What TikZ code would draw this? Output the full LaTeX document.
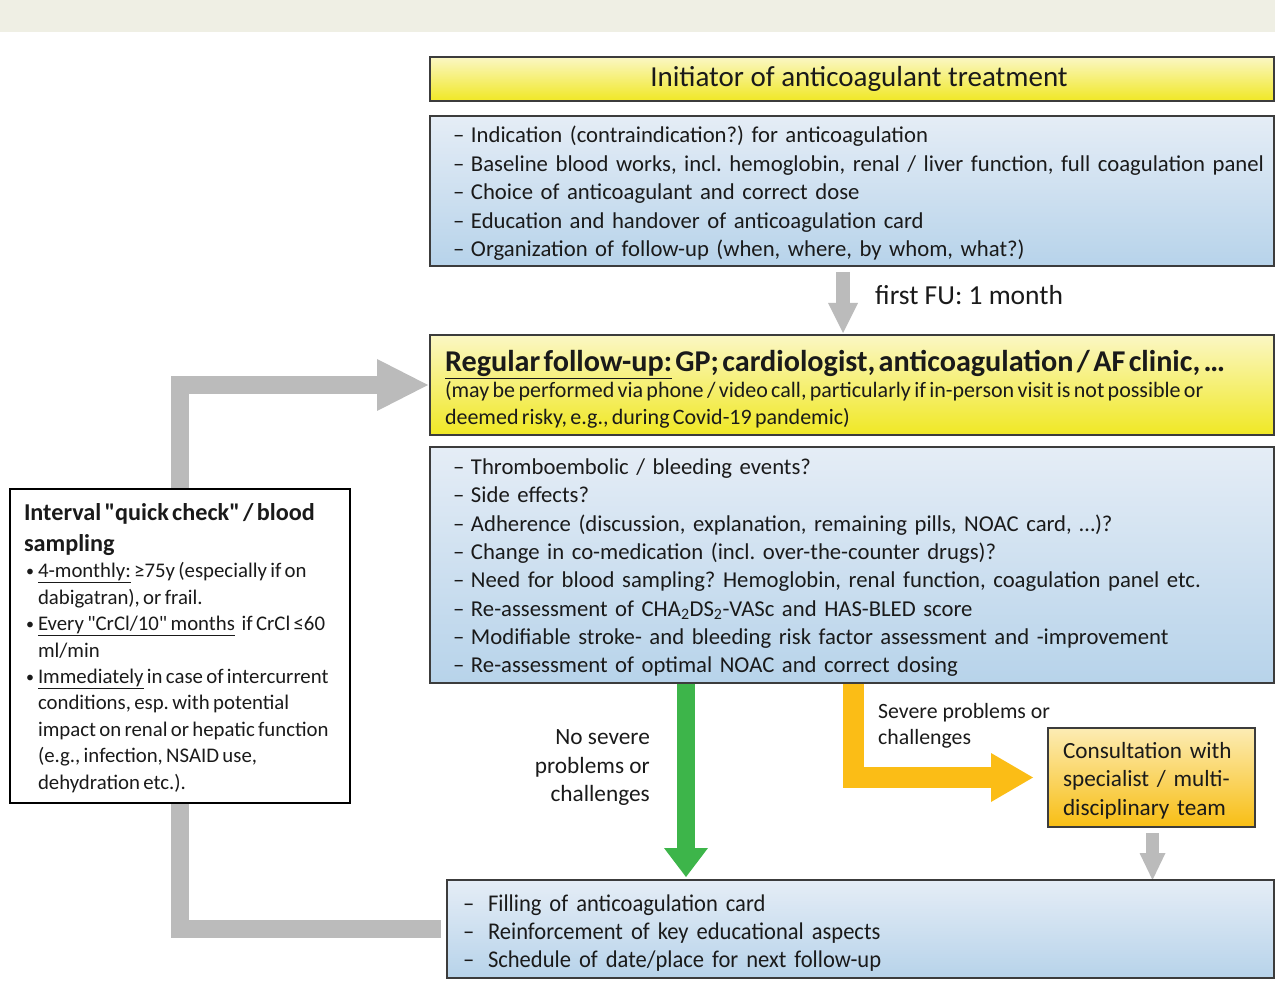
\documentclass[tikz,border=0pt]{standalone}
\usepackage{fontspec}
\setmainfont{Carlito}[Ligatures=TeXOff]
\newfontfamily\narrowfont{Carlito}[FakeStretch=0.94, Ligatures=TeXOff]
\usetikzlibrary{arrows.meta,backgrounds,calc}
\frenchspacing

\definecolor{band}{HTML}{EFEFE4}
\definecolor{boxline}{HTML}{3C3C3C}
\definecolor{blueTop}{HTML}{E5EDF6}
\definecolor{blueBot}{HTML}{B7D3EA}
\definecolor{yelTop}{HTML}{FBF7C4}
\definecolor{yelBot}{HTML}{F0E824}
\definecolor{consTop}{HTML}{FCECB4}
\definecolor{consBot}{HTML}{F8BE14}
\definecolor{arrgray}{HTML}{BBBBBB}
\definecolor{arrgreen}{HTML}{3DB54A}
\definecolor{arrorange}{HTML}{FBBD16}
\definecolor{ink}{HTML}{1A1A1A}

\newcommand\fsz[2]{\fontsize{#1}{#2}\selectfont}
\newcommand\dashitem{\makebox[18pt][l]{–}}
\newcommand\ndashitem{\makebox[25pt][l]{–}}
\newcommand\blt{\makebox[14pt][l]{\hspace{2pt}\raisebox{1pt}{\fsz{16}{16}•}}}
\newcommand\hang{\hspace*{14pt}}
% trailing negative space lowers a vertically centred text block
\newcommand\sinkby[1]{\par\vspace{-#1}}

\tikzset{
  box/.style={draw=boxline, line width=1.6pt, anchor=north west,
    inner ysep=0pt, outer sep=0pt, text=ink},
  bluebox/.style={box, top color=blueTop, bottom color=blueBot, align=left},
  yellowbox/.style={box, top color=yelTop, bottom color=yelBot},
  consbox/.style={box, top color=consTop, bottom color=consBot, align=left},
  plainlabel/.style={inner sep=0pt, text=ink},
  blockarrow/.style={line join=miter, line cap=butt},
}

\begin{document}
\begin{tikzpicture}[x=1pt, y=-1pt]
\useasboundingbox (0,0) rectangle (1275,981);

% horizontal positions of the vertical arrows
\coordinate (fux) at (843,0);
\coordinate (gx) at (686,0);
\coordinate (ox) at (853,0);
\coordinate (cx) at (1152.5,0);
\coordinate (loopx) at (179.5,0);

% header box
\node[yellowbox, minimum width=844pt, minimum height=44pt,
      font=\fsz{29}{32}] (init) at (430,57)
  {\hspace*{14pt}\raisebox{-3pt}{Initiator of anticoagulant treatment}};

% tasks at initiation
\node[bluebox, text width=798pt, inner xsep=23pt, minimum height=150pt,
      font=\fsz{22.7}{28.4}] (tasks) at (430,116)
  {\begin{tabular}{@{}l@{}}
   \dashitem Indication (contraindication?) for anticoagulation\\
   \dashitem Baseline blood works, incl. hemoglobin, renal / liver function, full coagulation panel\\
   \dashitem Choice of anticoagulant and correct dose\\
   \dashitem Education and handover of anticoagulation card\\
   \dashitem Organization of follow-up (when, where, by whom, what?)
   \end{tabular}\sinkby{6pt}};

% first follow-up label
\node[plainlabel, anchor=west, font=\fsz{27.5}{30}] (fu) at (875,295)
  {first FU: 1 month};

% regular follow-up box
\node[yellowbox, text width=814pt, inner xsep=15pt, minimum height=100pt,
      align=left] (follow) at (430,335)
  {{\fsz{30.2}{32}\bfseries\mbox{\underline{Regular follow-up:} GP; cardiologist, anticoagulation / AF clinic, …}\par}
   {\fsz{22}{26.5}\mbox{(may be performed via phone / video call, particularly if in-person visit is not possible or}\\
   \mbox{deemed risky, e.g., during Covid-19 pandemic)}\par}\sinkby{8pt}};

% checks at each follow-up
\node[bluebox, text width=798pt, inner xsep=23pt, minimum height=236pt,
      font=\fsz{22.7}{28.3}] (checks) at (430,447)
  {\begin{tabular}{@{}l@{}}
   \dashitem Thromboembolic / bleeding events?\\
   \dashitem Side effects?\\
   \dashitem Adherence (discussion, explanation, remaining pills, NOAC card, …)?\\
   \dashitem Change in co-medication (incl. over-the-counter drugs)?\\
   \dashitem Need for blood sampling? Hemoglobin, renal function, coagulation panel etc.\\
   \dashitem Re-assessment of CHA\textsubscript{2}DS\textsubscript{2}-VASc and HAS-BLED score\\
   \dashitem Modifiable stroke- and bleeding risk factor assessment and -improvement\\
   \dashitem Re-assessment of optimal NOAC and correct dosing
   \end{tabular}\sinkby{6pt}};

% interval check box
\node[draw=black, line width=1.3pt, fill=white, anchor=north west,
      outer sep=0pt, minimum width=340pt, minimum height=314pt,
      inner xsep=14pt, text width=312pt, align=left, text=ink] (quick) at (10,489)
  {{\fsz{24.2}{31}\bfseries\mbox{Interval "quick check" / blood}\\ \mbox{sampling}\par}
   {\fsz{20.8}{26.4}%
   \mbox{\blt\underline{4-monthly:} ≥75y (especially if on}\\
   \mbox{\hang dabigatran), or frail.}\\
   \mbox{\blt\underline{Every "CrCl/10" months}\ \ if CrCl ≤60}\\
   \mbox{\hang ml/min}\\
   \mbox{\blt\underline{Immediately} in case of intercurrent}\\
   \mbox{\hang conditions, esp. with potential}\\
   \mbox{\hang impact on renal or hepatic function}\\
   \mbox{\hang (e.g., infection, NSAID use,}\\
   \mbox{\hang dehydration etc.).}\par}\sinkby{4pt}};

% branch labels
\node[plainlabel, anchor=east, align=right, font=\fsz{23.3}{28.5}] (noprob) at (650,768)
  {No severe\\problems or\\challenges};
\node[plainlabel, anchor=west, align=left, font=\fsz{21.8}{26}] (severe) at (878,726)
  {Severe problems or\\challenges};

% specialist consultation
\node[consbox, text width=177pt, inner xsep=15pt, minimum height=99pt,
      font=\fsz{23.2}{28.5}] (consult) at (1048,728)
  {Consultation with\\specialist / multi-\\disciplinary team\sinkby{6pt}};

% closing tasks
\node[bluebox, text width=795pt, inner xsep=16pt, minimum height=98pt,
      font=\narrowfont\fsz{24}{28}] (final) at (447,880)
  {\begin{tabular}{@{}l@{}}
   \ndashitem Filling of anticoagulation card\\
   \ndashitem Reinforcement of key educational aspects\\
   \ndashitem Schedule of date/place for next follow-up
   \end{tabular}\sinkby{10pt}};

\begin{pgfonlayer}{background}
  \fill[band] (0,0) rectangle (1275,32);

  % initiation -> first follow-up
  \draw[blockarrow, arrgray, line width=14pt,
        -{Triangle[width=30pt,length=30pt,line width=0pt]},
        shorten <=6pt, shorten >=2pt]
    (tasks.south -| fux) -- (follow.north -| fux);

  % loop back to the next regular follow-up
  \draw[blockarrow, arrgray, line width=18pt,
        -{Triangle[width=52pt,length=51pt,line width=0pt]},
        shorten <=6pt, shorten >=2pt]
    (final.west) -| (loopx |- follow.west) -- (follow.west);

  % no severe problems
  \draw[blockarrow, arrgreen, line width=18pt,
        -{Triangle[width=44pt,length=29pt,line width=0pt]},
        shorten >=3pt]
    (checks.south -| gx) -- (final.north -| gx);

  % severe problems
  \draw[blockarrow, arrorange, line width=21pt,
        -{Triangle[width=49pt,length=42pt,line width=0pt]},
        shorten >=15pt]
    (checks.south -| ox) |- (consult.west);

  % consultation -> closing tasks
  \draw[blockarrow, arrgray, line width=13pt,
        -{Triangle[width=26pt,length=27pt,line width=0pt]},
        shorten <=6pt]
    (consult.south -| cx) -- (final.north -| cx);
\end{pgfonlayer}
\end{tikzpicture}
\end{document}
